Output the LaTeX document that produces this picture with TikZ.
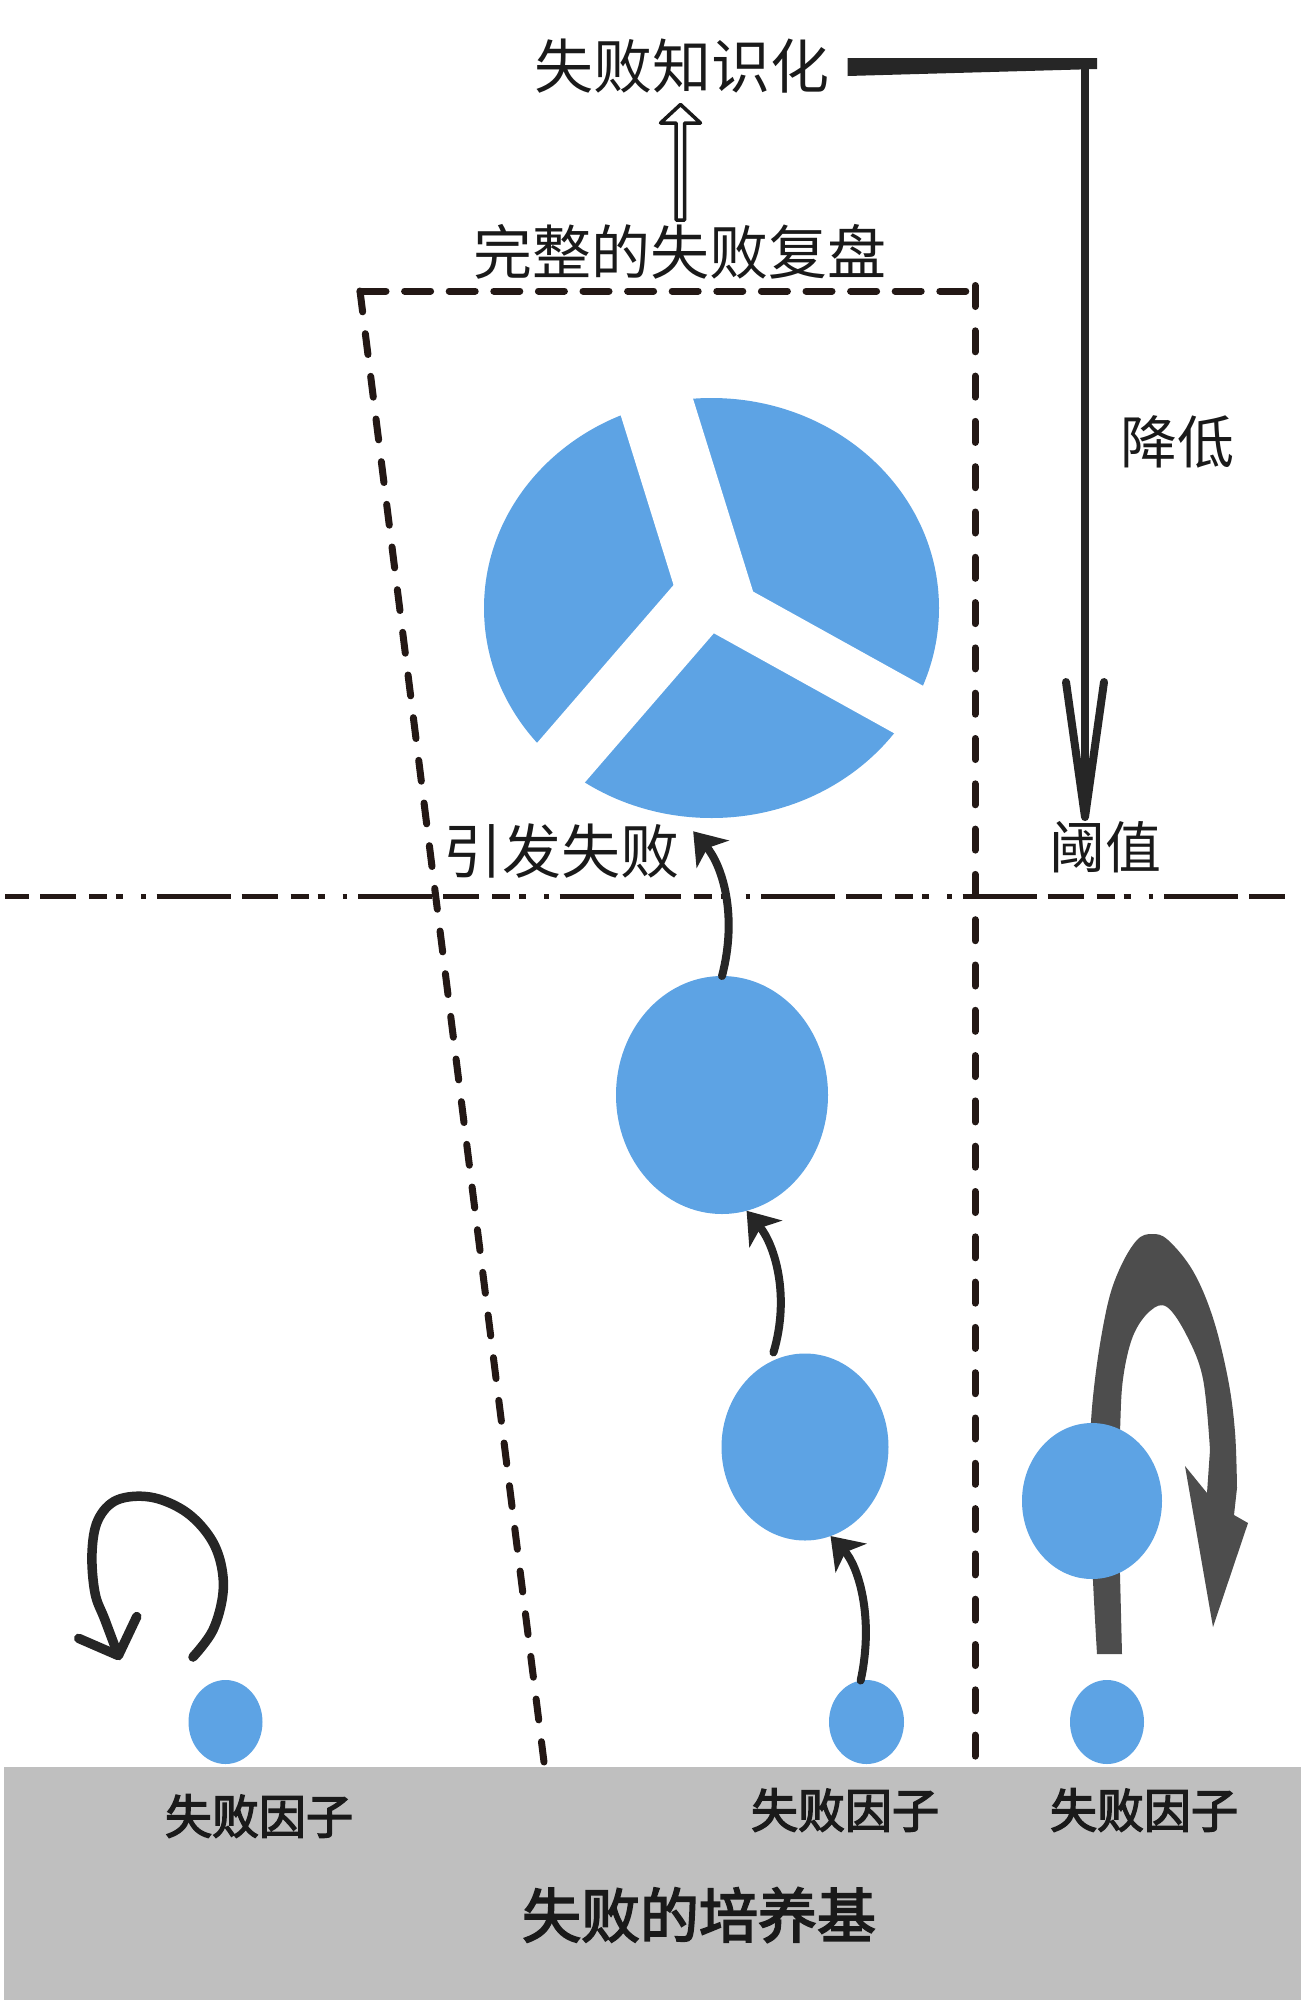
\documentclass[tikz,border=0pt]{standalone}
\usepackage{fontspec}
\newfontfamily\cjk{Noto Sans CJK SC}
\newfontfamily\cjkm{Noto Sans CJK SC}[UprightFeatures={FakeBold=3}]
\usetikzlibrary{shapes.geometric,arrows.meta,calc}
\definecolor{pieblue}{RGB}{93,163,228}
\definecolor{bandgray}{RGB}{191,191,191}
\definecolor{ink}{RGB}{26,26,26}
\definecolor{dashc}{RGB}{35,24,21}
\definecolor{arr}{RGB}{38,38,38}
\definecolor{brushc}{RGB}{77,77,77}
\begin{document}
\begin{tikzpicture}[x=1pt,y=-1pt,
 txt/.style={inner sep=0pt, text=ink, font=\cjk\fontsize{59pt}{60pt}\selectfont},
 txtm/.style={inner sep=0pt, text=ink, font=\cjk\fontsize{57pt}{58pt}\selectfont},
 factor/.style={inner sep=0pt, text=ink, font=\cjkm\fontsize{47pt}{48pt}\selectfont},
 basetxt/.style={inner sep=0pt, text=ink, font=\cjkm\fontsize{59pt}{60pt}\selectfont},
 blob/.style={ellipse, fill=pieblue, inner sep=0pt, outer sep=0pt},
 growth/.style={draw=arr, line width=8pt, line cap=round, -{Stealth[length=30pt,width=42pt,inset=8pt]}},
 dashline/.style={draw=dashc, line width=7pt, line cap=round},
]
\useasboundingbox (0,0) rectangle (1301,2000);
\fill[white] (0,0) rectangle (1301,2000);
% culture medium band
\fill[bandgray] (4,1767) rectangle (1301,2000);

% threshold line
\draw[dashc, line width=5pt, dash pattern=on 74pt off 11pt on 36pt off 13pt on 18pt off 9pt on 7pt off 18pt on 4.5pt off 11pt, dash phase=50pt] (5,896) -- (1295,896);

% dashed trapezoid
\draw[dashline, dash pattern=on 26pt off 18.6pt] (360,291) -- (975,291);
\draw[dashline, dash pattern=on 21pt off 22pt] (360,291) -- (544,1762);
\draw[dashline, dash pattern=on 21pt off 24.3pt] (975,285.5) -- (975,1762);

% texts
\node[txt] (know) at (682,66) {失败知识化};
\node[txt] (rev) at (680,252) {完整的失败复盘};
\node[txt] (trig) at (561,851) {引发失败};
\node[txtm] (down) at (1177,442) {降低};
\node[txtm, font=\cjk\fontsize{56pt}{57pt}\selectfont] (thr) at (1105,847) {阈值};
\node[factor] (f1) at (259,1816) {失败因子};
\node[factor] (f2) at (845,1810) {失败因子};
\node[factor] (f3) at (1144,1810) {失败因子};
\node[basetxt] (base) at (699,1915) {失败的培养基};

% hollow arrow from review to knowledge
\draw[ink, line width=3.5pt, fill=white, line join=round]
  (676,220) -- (676,123) -- (660.5,123) -- (680.5,104.5) -- (700.5,123) -- (684.5,123) -- (684.5,220) -- cycle;

% brush bar and threshold-lowering arrow
\coordinate (corner) at (1085,62);
\fill[arr] ($(know.east)+(18,-8)$) -- (1097,58) -- (1097,69) -- ($(know.east)+(18,10)$) -- cycle;
\draw[arr, line width=8pt, -{Straight Barb[length=135pt,width=38pt,round]}] (corner) -- (corner |- thr.north);

% pie (complete review)
\node[blob, minimum width=455pt, minimum height=420pt] (pie) at (711.5,608) {};
\begin{scope}
\clip (pie.center) ellipse [x radius=229, y radius=212];
\draw[white, line width=74pt] (724.2,623.2) -- (629,317.6);
\draw[white, line width=62pt] (713.3,586.5) -- (497.5,836);
\draw[white, line width=55.5pt] (707.5,598) -- (996,758);
\end{scope}

% growing factors
\node[blob, minimum width=212pt, minimum height=238pt] (e1) at (722,1095) {};
\node[blob, minimum width=167pt, minimum height=187pt] (e2) at (805,1447) {};
\node[blob, minimum width=75pt, minimum height=84pt] (s2) at (866.5,1722) {};
\node[blob, minimum width=74pt, minimum height=84pt] (s1) at (225.5,1722) {};

% right loop (brush stroke behind its circle)
\fill[brushc]
  plot[smooth, tension=0.6] coordinates {(1097,1654) (1092,1557) (1090,1450) (1095,1379) (1107,1307) (1120,1268) (1137,1240) (1152,1234) (1168,1240) (1193,1271) (1213,1318) (1228,1379) (1235,1432) (1237,1488)}
  -- (1234,1515) -- (1248,1523) -- (1213,1627) -- (1185,1466) -- (1207,1493)
  -- plot[smooth, tension=0.6] coordinates {(1210,1450) (1203,1379) (1187,1336) (1167,1307) (1150,1311) (1133,1336) (1123,1379) (1120,1432) (1118,1504) (1120,1575) (1122,1654)}
  -- cycle;
\node[blob, minimum width=140pt, minimum height=156pt] (e3) at (1092,1501) {};
\node[blob, minimum width=74pt, minimum height=84pt] (s3) at (1107,1722) {};

% growth arrows
\draw[growth] (s2.98) .. controls +(14,-65) and +(27,29) .. (e2.-74);
\draw[growth] ([yshift=8pt]e2.110) .. controls +(17,-57) and +(28,34) .. (e1.-78);
\draw[growth] (e1.north) .. controls +(16,-61) and +(29,34) .. ([yshift=-14pt]pie.-95);

% left loop
\draw[arr, line width=9.5pt, line cap=round, -{Straight Barb[length=30pt,width=62pt,round]}]
  plot[smooth, tension=0.6] coordinates {(193,1657) (213,1630) (223,1593) (220,1560) (207,1533) (183,1510) (150,1497) (117,1500) (98,1520) (92,1553) (95,1593) (105,1620) (120,1660)};
\end{tikzpicture}
\end{document}
